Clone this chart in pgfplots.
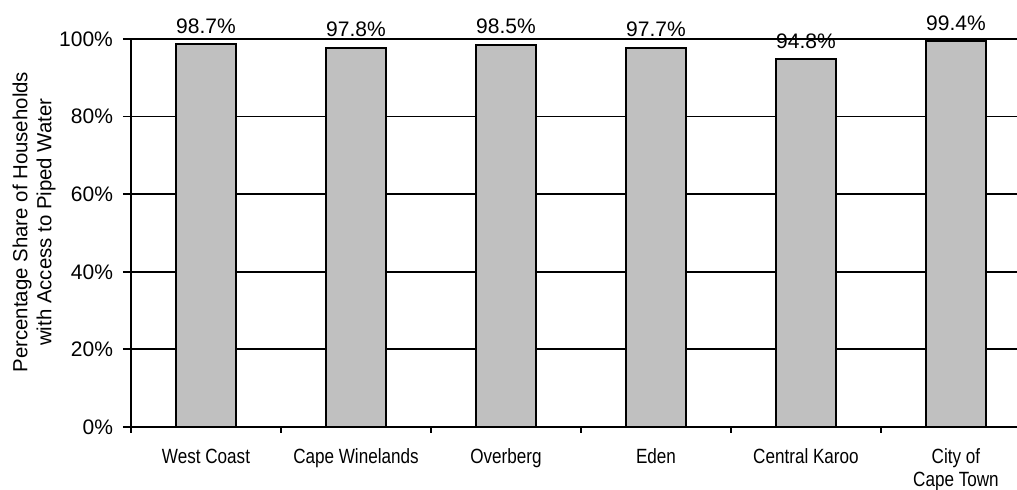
\documentclass[border=0pt]{standalone}
\usepackage{fontspec}
\setmainfont{Liberation Sans}
\newfontfamily\narrowsans[FakeStretch=0.83]{Liberation Sans}
\usepackage{pgfplots}
\pgfplotsset{compat=1.18}
\definecolor{barfill}{HTML}{C0C0C0}
\begin{document}
\begin{tikzpicture}
  \begin{axis}[
      name=ax,
      scale only axis,
      width=443pt, height=194pt,
      xmin=-0.5, xmax=5.407,
      ymin=0, ymax=100,
      axis x line=bottom, axis y line=left,
      axis line style={-, line width=1.2pt},
      ytick={0,20,...,100},
      yticklabel={\pgfmathprintnumber[assume math mode=true]{\tick}\%},
      ymajorgrids,
      grid style={black, line width=0.9pt},
      tick align=outside,
      major tick length=4pt,
      minor tick length=3pt,
      tick style={black, line width=0.9pt},
      xtick={0,...,5},
      xticklabels={West Coast, Cape Winelands, Overberg, Eden, Central Karoo, City of\\Cape Town},
      major x tick style={draw=none},
      minor xtick={-0.5,0.5,...,5.5},
      x tick label style={align=center, font=\narrowsans\fontsize{10.3}{11.5}\selectfont, yshift=-3.5pt},
      y tick label style={font=\fontsize{10.5}{12}\selectfont, xshift=-1.5pt},
      ylabel={Percentage Share of Households\\with Access to Piped Water},
      ylabel style={align=center, font=\fontsize{10.2}{12}\selectfont,
        at={(axis description cs:-0.1095,0.528)}, anchor=center},
      nodes near coords={\pgfmathprintnumber[fixed,fixed zerofill,precision=1,assume math mode=true]{\pgfplotspointmeta}\%},
      every node near coord/.append style={anchor=base, yshift=5.5pt, inner sep=0pt, font=\fontsize{10.5}{12}\selectfont, black},
    ]
    \addplot[ybar, bar width=30pt, fill=barfill, draw=black, line width=1pt]
      coordinates {(0,98.7) (1,97.8) (2,98.5) (3,97.7) (4,94.8) (5,99.4)};
  \end{axis}
  \pgfresetboundingbox
  \path ([shift={(-65.5pt,-31.5pt)}]ax.south west) rectangle ([shift={(0pt,19.5pt)}]ax.north east);
\end{tikzpicture}
\end{document}
